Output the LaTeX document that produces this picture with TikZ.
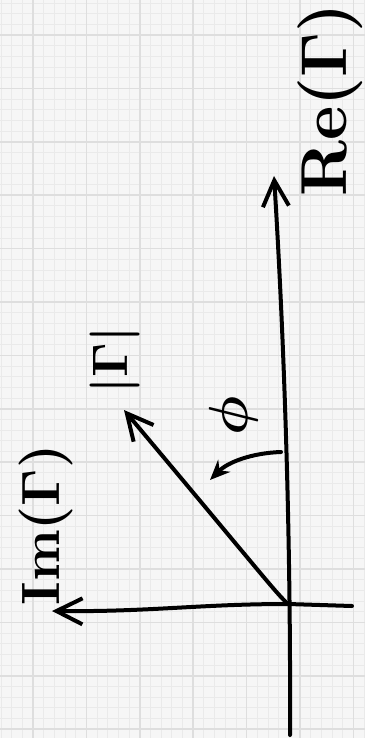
\documentclass[tikz,border=0pt]{standalone}
\usepackage{graphicx}
\usepackage{tikz}
\usetikzlibrary{arrows.meta, positioning, calc}
\definecolor{paper}{RGB}{246,246,246}
\definecolor{minorline}{RGB}{234,234,234}
\definecolor{majorline}{RGB}{222,222,222}
\newcommand{\bigtext}[2]{\scalebox{#1}{\boldmath#2}}
\tikzset{
  pen/.style={line width=4pt, line cap=round, line join=round, black},
  barb/.style={-{Straight Barb[length=26pt,width=26pt,line width=4pt]}},
  lbl/.style={rotate=90, inner sep=0pt},
}
\begin{document}
\begin{tikzpicture}[x=1pt, y=-1pt]
  \useasboundingbox (0,0) rectangle (365,738);
  \fill[paper] (0,0) rectangle (365,738);
  % grid paper
  \foreach \i in {-3,...,31}
    \draw[minorline, line width=0.8pt] ({33+10.68*\i},0) -- ({33+10.68*\i},738);
  \foreach \j in {-3,...,66}
    \draw[minorline, line width=0.8pt] (0,{35+10.68*\j}) -- (365,{35+10.68*\j});
  \foreach \i in {0,...,6}
    \draw[majorline, line width=1.6pt] ({33+53.4*\i},0) -- ({33+53.4*\i},738);
  \foreach \j in {-1,...,13}
    \draw[majorline, line width=1.6pt] (0,{35+53.4*\j}) -- (365,{35+53.4*\j});

  % axes
  \coordinate (O) at (288,604);
  \coordinate (reBot) at (290,735);
  \coordinate (reTip) at (274,176);
  \coordinate (imEnd) at (352,606);
  \coordinate (imTip) at (52,611);
  \coordinate (gTip) at (124,410);
  \coordinate (phiS) at (281,452);
  \coordinate (phiE) at (210,480);

  \draw[pen, barb] (reBot) .. controls (291,520) and (283,320) .. (reTip);
  \draw[pen, barb] (imEnd) -- (O) .. controls (200,604) and (150,612) .. (imTip);
  \draw[pen, barb] (O) .. controls (275,592) and (265,578) .. (gTip);
  \draw[pen, -{Stealth[length=20pt,width=17pt]}] (phiS) .. controls (252,453) and (228,462) .. (phiE);

  % labels
  \node[lbl] (relbl) at (330,100) {\bigtext{6.5}{$\mathrm{Re}(\Gamma)$}};
  \node[lbl] (maglbl) at (115,360) {\bigtext{5}{$|\Gamma|$}};
  \node[lbl] (philbl) at (234,416) {\bigtext{5.5}{$\phi$}};
  \node[lbl] (imlbl) at (46,525) {\bigtext{5.4}{$\mathrm{Im}(\Gamma)$}};
\end{tikzpicture}
\end{document}
